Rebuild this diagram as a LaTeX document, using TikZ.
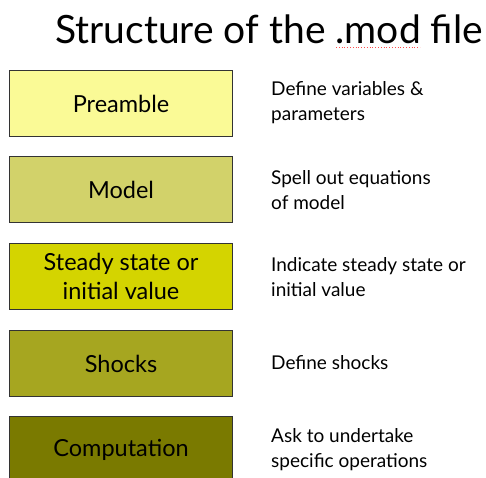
\documentclass[tikz,border=0pt]{standalone}
\usepackage{fontspec}
\setmainfont{Lato}
\definecolor{cPre}{HTML}{FAFA96}
\definecolor{cMod}{HTML}{D2D26A}
\definecolor{cSS}{HTML}{D4D400}
\definecolor{cShk}{HTML}{A6A620}
\definecolor{cComp}{HTML}{7A7A00}
\definecolor{cBorder}{HTML}{333333}
\tikzset{
  blockbox/.style={draw=cBorder, line width=1pt, minimum width=223pt, minimum height=66pt, inner sep=0pt, align=center, font=\fontsize{23.5}{29}\selectfont, anchor=north west},
  desc/.style={anchor=west, align=left, inner sep=0pt, font=\fontsize{19}{25}\selectfont},
}
\begin{document}
\begin{tikzpicture}[x=1pt,y=-1pt]
\useasboundingbox (0,0) rectangle (486,477);
\clip (0,0) rectangle (486,477);
\node[anchor=base east, inner sep=0pt, font=\fontsize{39}{44}\selectfont] (title) at (483,43) {Structure of the .mod file};
\coordinate (sq1) at (336,47);
\coordinate (sq2) at (420,47);
\draw[red!70, dotted, line width=0.8pt] (sq1) -- (sq2);
\node[blockbox, fill=cPre] (pre) at (9,70) {Preamble};
\node[blockbox, fill=cMod] (mod) at (9,156) {Model};
\node[blockbox, fill=cSS] (ss) at (9,243) {Steady state or\\initial value};
\node[blockbox, fill=cShk] (shk) at (9,330) {Shocks};
\node[blockbox, fill=cComp] (comp) at (9,416) {Computation};
\node[desc] (d1) at (271,103) {Define variables \&\\parameters};
\node[desc] (d2) at (271,190) {Spell out equations\\of model};
\node[desc] (d3) at (271,277) {Indicate steady state or\\initial value};
\node[desc] (d4) at (271,363) {Define shocks};
\node[desc] (d5) at (271,450) {Ask to undertake\\specific operations};
\end{tikzpicture}
\end{document}
